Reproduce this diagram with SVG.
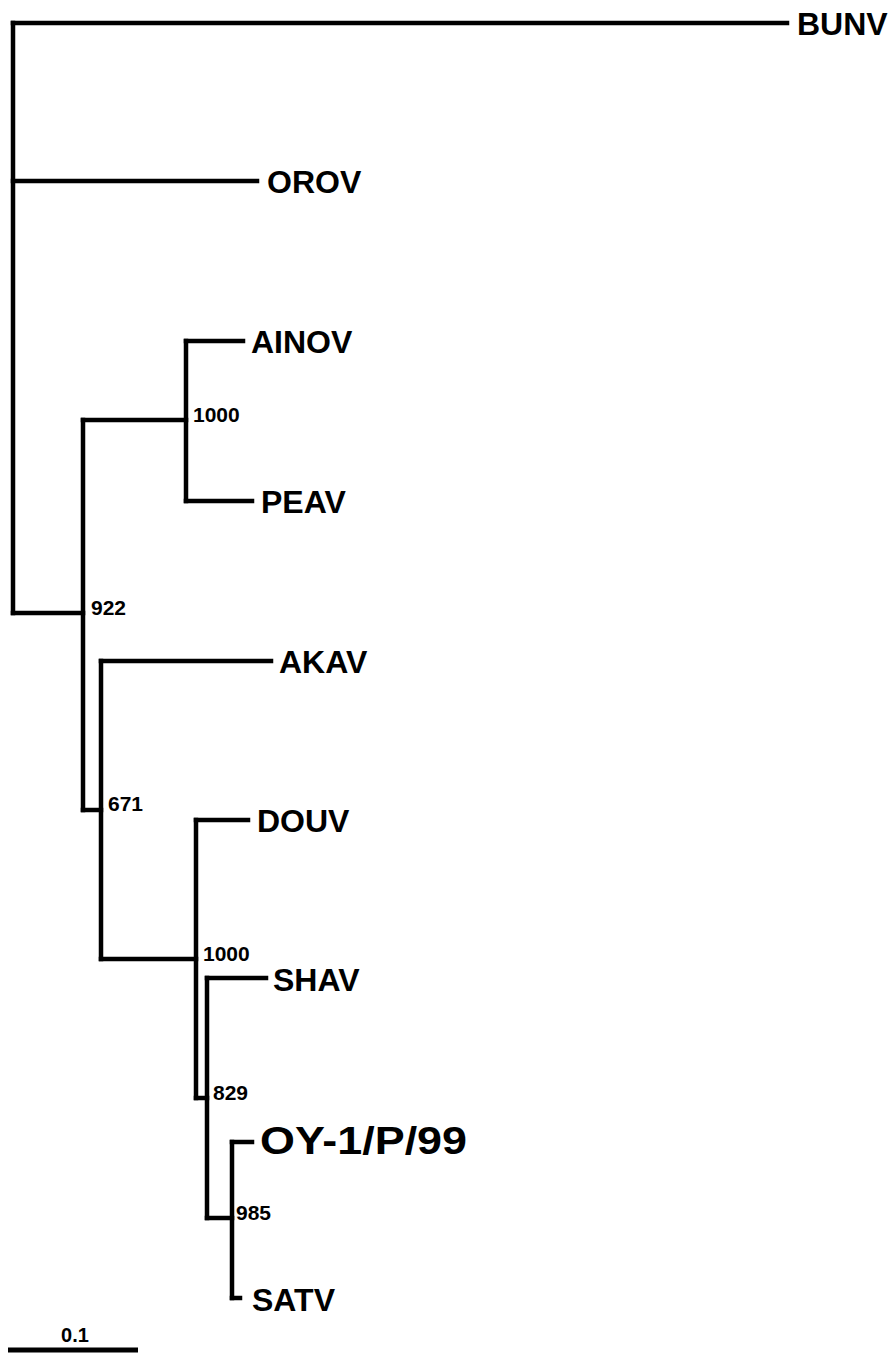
<svg xmlns="http://www.w3.org/2000/svg" width="894" height="1353" viewBox="0 0 894 1353">
<style>
.br{stroke:#000;stroke-width:4.5;fill:none;stroke-linecap:square;stroke-linejoin:miter}
.tx{font-family:"Liberation Sans",Arial,sans-serif;font-weight:bold;font-size:32px;fill:#000}
.bs{font-family:"Liberation Sans",Arial,sans-serif;font-weight:bold;font-size:21px;fill:#000}
</style>
<rect width="894" height="1353" fill="#fff"/>
<g id="connectors">
<path class="br" d="M13,23 V613"/>
<path class="br" d="M13,23 H787"/>
<path class="br" d="M13,181 H257"/>
<path class="br" d="M13,613 H83"/>
<path class="br" d="M83,420 V810"/>
<path class="br" d="M83,420 H186"/>
<path class="br" d="M186,341 V501"/>
<path class="br" d="M186,341 H243"/>
<path class="br" d="M186,501 H252"/>
<path class="br" d="M83,810 H101"/>
<path class="br" d="M101,661 V959"/>
<path class="br" d="M101,661 H271"/>
<path class="br" d="M101,959 H196"/>
<path class="br" d="M196,820 V1098"/>
<path class="br" d="M196,820 H248"/>
<path class="br" d="M196,1098 H207"/>
<path class="br" d="M207,978 V1218"/>
<path class="br" d="M207,978 H266"/>
<path class="br" d="M207,1218 H232"/>
<path class="br" d="M232,1142 V1298"/>
<path class="br" d="M232,1142 H252"/>
<path class="br" d="M232,1298 H240"/>
</g>
<g id="BUNV"><text class="tx" x="797" y="35">BUNV</text></g>
<g id="OROV"><text class="tx" x="267" y="193">OROV</text></g>
<g id="AINOV"><text class="tx" x="251" y="353">AINOV</text></g>
<g id="PEAV"><text class="tx" x="261" y="513">PEAV</text></g>
<g id="AKAV"><text class="tx" x="279" y="673">AKAV</text></g>
<g id="DOUV"><text class="tx" x="257" y="832">DOUV</text></g>
<g id="SHAV"><text class="tx" x="273" y="991">SHAV</text></g>
<g id="OY-1"><text class="tx" x="260" y="1154" style="font-size:39px" textLength="207" lengthAdjust="spacingAndGlyphs">OY-1/P/99</text></g>
<g id="SATV"><text class="tx" x="252" y="1311">SATV</text></g>
<g id="bootstrap">
<text class="bs" x="193" y="422">1000</text>
<text class="bs" x="91" y="615">922</text>
<text class="bs" x="108" y="811">671</text>
<text class="bs" x="203" y="961">1000</text>
<text class="bs" x="213" y="1100">829</text>
<text class="bs" x="236" y="1220">985</text>
</g>
<g id="scalebar">
<path d="M8,1350 H138" stroke="#000" stroke-width="5"/>
<text class="bs" x="75" y="1342" text-anchor="middle" style="font-size:20px">0.1</text>
</g>
</svg>
